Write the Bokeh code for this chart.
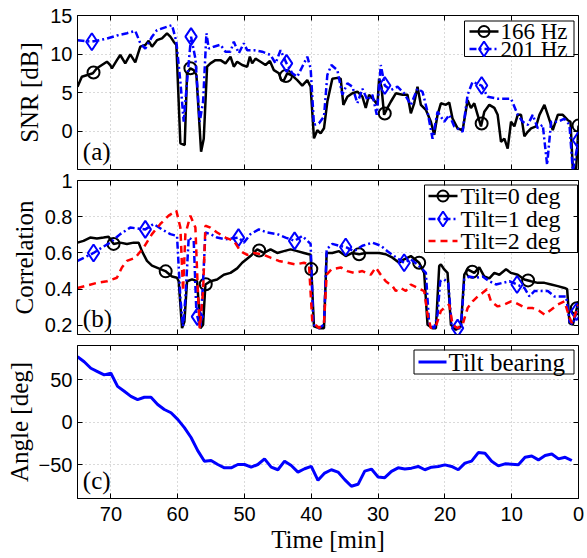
import numpy as np
from bokeh.plotting import figure
from bokeh.layouts import column
from bokeh.models import Range1d, LinearAxis, FixedTicker, Label, CustomLabelingPolicy
from bokeh.embed import file_html
from bokeh.resources import INLINE

# ---------------- data ----------------
x_ticks = [0, 10, 20, 30, 40, 50, 60, 70]

snr166_t = [75, 74.35, 72.7, 72.1, 71.35, 70.6, 70.1, 69.85, 69.1, 68.6, 67.85, 67.1, 66.35, 65.6, 64.85,
            64.35, 63.85, 63.1, 62.35, 61.6, 61.1, 60.6, 60.2, 59.6, 58.95, 58.6, 58.1, 57.6, 57.2, 56.5,
            56.1, 55.6, 55.1, 54.35, 53.6, 52.85, 52.1, 51.6, 51.1, 50.35, 49.6, 49.2, 48.85, 48.35, 47.6,
            46.85, 46.2, 45.6, 44.85, 44.5, 44.1, 43.6, 42.85, 42.1, 41.35, 40.6, 40.1, 39.6, 39.1, 38.6,
            38.1, 37.6, 36.85, 36.1, 35.6, 35.2, 34.6, 33.85, 33.1, 32.35, 31.85, 31.35, 30.6, 30.1, 29.85,
            29.5, 29.1, 28.6, 28.1, 27.35, 26.35, 25.6, 25.1, 24.6, 24.1, 23.6, 22.85, 22.1, 21.6, 21.1,
            20.6, 19.85, 19.35, 18.85, 18.1, 17.35, 16.6, 16.1, 15.6, 15.1, 14.6, 14.1, 13.35, 12.6, 12.1,
            11.6, 11.1, 10.6, 10.1, 9.6, 9.1, 8.6, 8.1, 7.6, 7.1, 6.35, 5.85, 5.1, 4.6, 3.85,
            3.1, 2.35, 1.6, 1.2, 0.85, 0.35, 0.0]
snr166_v = [5.75, 7.05, 7.5, 8.14, 8.57, 9.0, 8.57, 8.14, 9.2, 9.87, 8.78, 9.96, 8.9, 10.95, 11.17,
            11.7, 10.95, 11.8, 12.03, 12.68, 12.25, 11.6, 11.17, -1.6, -1.82, 7.5, 8.14, 7.9, 7.27, -2.68,
            -1.0, 8.35, 8.78, 9.2, 9.2, 8.78, 9.65, 8.35, 9.0, 8.57, 8.35, 9.65, 8.78, 9.4, 9.0,
            8.57, 9.1, 7.9, 7.5, 6.6, 6.6, 7.5, 7.2, 6.6, 5.9, 6.6, 5.75, -0.95, 0.1, -0.3,
            0.35, 3.8, 6.8, 6.9, 6.8, 3.4, 4.45, 4.9, 5.1, 4.45, 3.0, 4.7, 4.0, 3.4, 6.8,
            5.75, 2.1, 3.0, 3.8, 4.9, 4.7, 4.7, 2.3, 3.6, 5.75, 3.4, 2.75, 1.2, -0.5, 2.1,
            3.6, 3.4, 3.7, 1.6, 0.35, 0.1, 4.0, 3.0, 3.6, 2.1, 0.6, 2.5, 3.4, 3.0, 2.1,
            -1.4, -1.0, -2.3, 1.2, 0.6, 2.1, 2.1, -0.7, -0.1, 0.35, 0.6, 2.1, 3.4, 2.1, 0.1,
            2.1, 2.1, 1.4, 1.2, -4.85, -4.9, 0.7]

snr201_t = [75, 72.85, 70.6, 69.1, 67.6, 66.35, 65.6, 64.85, 63.85, 63.1, 62.1, 60.85, 60.2, 59.6, 59.1,
            58.6, 58.0, 57.35, 56.7, 56.2, 55.7, 55.35, 54.6, 53.6, 52.85, 52.1, 51.6, 50.85, 50.1, 49.6,
            48.6, 47.35, 46.1, 45.35, 44.6, 43.7, 42.85, 42.1, 41.35, 40.6, 40.1, 39.6, 38.85, 38.1, 37.6,
            37.0, 36.1, 35.35, 34.6, 33.85, 33.1, 32.35, 31.6, 30.85, 30.2, 29.6, 29.0, 28.1, 27.1, 26.1,
            25.1, 24.1, 23.35, 22.6, 21.85, 21.1, 20.1, 19.35, 18.6, 17.35, 16.6, 15.85, 14.5, 13.6, 12.1,
            11.1, 10.1, 9.1, 8.35, 7.6, 6.85, 6.1, 5.35, 4.7, 4.1, 3.1, 2.1, 1.35, 0.85, 0.0]
snr201_v = [11.8, 11.6, 12.0, 12.4, 12.7, 13.0, 11.4, 10.7, 12.25, 13.1, 13.4, 13.75, 11.6, 6.4, 1.2,
            6.4, 12.25, 9.4, 1.2, 3.8, 12.7, 10.7, 10.95, 11.2, 10.3, 10.3, 11.6, 10.1, 11.4, 10.5,
            10.5, 10.3, 9.87, 8.78, 10.5, 8.78, 7.5, 7.05, 8.35, 9.65, 8.14, 0.8, 1.0, 1.9, 7.27,
            8.57, 7.9, 4.7, 6.2, 5.75, 3.6, 5.5, 4.0, 4.7, 2.1, 8.57, 5.9, 5.3, 5.75, 4.9,
            3.4, 5.5, 5.1, 2.5, -1.0, 2.5, 1.2, 2.1, 0.6, -0.1, 4.7, 6.4, 5.9, 4.45, 4.2,
            4.2, 4.2, 2.1, 1.2, 0.8, 2.1, 0.35, 0.8, -4.4, 1.2, 1.2, 1.6, 0.8, -5.2, -1.2]

snr166_marks = [72.6, 58.1, 43.8, 29.0, 14.5, 0.0]
snr201_marks = [72.85, 58.0, 43.7, 29.0, 14.5, 0.0]

c0_t = [75, 74.1, 73.1, 72.1, 71.1, 70.35, 69.6, 68.6, 67.6, 66.6, 65.85, 65.35, 64.6, 63.85, 62.85,
        61.85, 60.85, 60.1, 59.85, 59.35, 59.0, 58.6, 57.85, 57.1, 56.6, 56.2, 55.85, 55.1, 54.1, 53.1,
        52.1, 51.1, 50.35, 49.1, 48.1, 47.1, 46.1, 45.1, 44.1, 43.1, 42.1, 41.1, 40.1, 39.6, 38.85,
        38.1, 37.7, 36.85, 35.85, 34.85, 33.85, 32.85, 31.85, 30.85, 29.85, 28.85, 27.85, 26.85, 26.1, 25.1,
        23.85, 23.1, 22.6, 21.85, 21.35, 20.85, 20.6, 20.1, 19.6, 19.1, 18.35, 17.6, 17.1, 16.6, 15.6,
        14.85, 14.1, 13.35, 12.6, 11.85, 10.85, 10.1, 9.1, 8.1, 7.1, 6.1, 5.1, 4.1, 3.1, 2.1,
        1.7, 1.35, 0.85, 0.0]
c0_v = [0.657, 0.667, 0.685, 0.68, 0.685, 0.69, 0.65, 0.657, 0.65, 0.657, 0.657, 0.61, 0.556, 0.53, 0.515,
        0.5, 0.47, 0.463, 0.444, 0.185, 0.22, 0.444, 0.454, 0.444, 0.185, 0.204, 0.426, 0.444, 0.454, 0.48,
        0.49, 0.515, 0.546, 0.583, 0.62, 0.6, 0.62, 0.6, 0.61, 0.62, 0.61, 0.6, 0.59, 0.195, 0.185,
        0.185, 0.6, 0.6, 0.61, 0.583, 0.6, 0.593, 0.6, 0.6, 0.6, 0.593, 0.574, 0.546, 0.565, 0.583,
        0.546, 0.49, 0.204, 0.185, 0.185, 0.528, 0.537, 0.509, 0.49, 0.204, 0.176, 0.195, 0.48, 0.51, 0.49,
        0.52, 0.47, 0.46, 0.49, 0.48, 0.51, 0.49, 0.48, 0.454, 0.444, 0.435, 0.435, 0.426, 0.417, 0.407,
        0.4, 0.213, 0.204, 0.333]

c1_t = [75, 72.6, 71.35, 70.1, 68.6, 67.1, 64.85, 63.6, 62.35, 61.1, 60.1, 59.6, 59.2, 58.85, 58.35,
        57.6, 57.2, 56.6, 56.2, 55.85, 55.1, 54.1, 52.85, 50.85, 50.1, 49.1, 47.85, 46.6, 45.1, 43.85,
        42.5, 41.35, 40.1, 39.7, 38.85, 38.1, 37.7, 36.85, 35.85, 34.85, 33.6, 32.35, 30.85, 29.6, 28.6,
        27.6, 26.1, 25.1, 24.1, 23.35, 22.85, 22.35, 21.6, 21.1, 20.7, 20.1, 19.5, 19.0, 18.1, 17.6,
        17.1, 16.35, 15.35, 14.35, 13.35, 12.35, 11.35, 10.35, 9.2, 8.1, 7.35, 6.6, 5.6, 4.6, 3.6,
        2.6, 1.85, 1.35, 0.85, 0.0]
c1_v = [0.556, 0.6, 0.63, 0.657, 0.704, 0.74, 0.73, 0.76, 0.73, 0.704, 0.694, 0.35, 0.195, 0.35, 0.685,
        0.667, 0.27, 0.185, 0.444, 0.713, 0.704, 0.685, 0.676, 0.685, 0.657, 0.704, 0.73, 0.713, 0.704, 0.685,
        0.667, 0.694, 0.65, 0.204, 0.185, 0.204, 0.62, 0.65, 0.64, 0.633, 0.61, 0.64, 0.657, 0.64, 0.61,
        0.583, 0.546, 0.565, 0.537, 0.51, 0.49, 0.204, 0.185, 0.26, 0.444, 0.454, 0.435, 0.204, 0.185, 0.185,
        0.454, 0.47, 0.463, 0.47, 0.444, 0.426, 0.435, 0.444, 0.426, 0.407, 0.36, 0.39, 0.39, 0.39, 0.36,
        0.36, 0.36, 0.222, 0.204, 0.315]

c2_t = [75, 73.6, 72.1, 70.6, 69.1, 68.35, 67.6, 66.35, 65.1, 63.85, 62.6, 61.35, 60.2, 59.6, 59.2,
        58.85, 58.1, 57.35, 57.0, 56.7, 56.2, 55.85, 55.1, 54.1, 52.85, 51.6, 50.6, 49.6, 48.6, 47.35,
        46.1, 44.85, 43.6, 42.35, 41.1, 40.35, 39.85, 38.85, 38.1, 37.7, 37.0, 35.6, 34.6, 33.6, 32.35,
        31.1, 30.35, 29.6, 28.85, 27.85, 27.35, 26.6, 25.85, 25.1, 24.1, 23.1, 22.6, 22.1, 21.35, 20.6,
        19.85, 19.35, 18.85, 18.1, 17.35, 16.6, 15.85, 15.1, 14.35, 13.7, 13.1, 12.1, 11.1, 10.1, 9.35,
        8.35, 7.6, 6.85, 5.85, 5.1, 4.1, 3.1, 2.1, 1.5, 1.0, 0.5, 0.0]
c2_v = [0.407, 0.42, 0.435, 0.444, 0.463, 0.52, 0.556, 0.574, 0.63, 0.704, 0.76, 0.806, 0.833, 0.74, 0.39,
        0.704, 0.806, 0.74, 0.407, 0.185, 0.39, 0.75, 0.74, 0.713, 0.685, 0.667, 0.61, 0.59, 0.6, 0.593,
        0.574, 0.556, 0.546, 0.537, 0.546, 0.537, 0.22, 0.185, 0.213, 0.48, 0.51, 0.52, 0.5, 0.49, 0.5,
        0.48, 0.52, 0.48, 0.444, 0.417, 0.39, 0.407, 0.39, 0.426, 0.407, 0.39, 0.26, 0.185, 0.195, 0.28,
        0.305, 0.315, 0.204, 0.185, 0.204, 0.296, 0.333, 0.36, 0.38, 0.4, 0.333, 0.305, 0.315, 0.333, 0.324,
        0.305, 0.296, 0.296, 0.28, 0.26, 0.287, 0.315, 0.333, 0.26, 0.213, 0.26, 0.315]

c0_marks = [69.6, 61.8, 55.8, 47.8, 40.0, 32.85, 23.85, 15.9, 7.55, 0.25]
c1_marks = [72.6, 64.85, 57.05, 50.9, 42.5, 34.85, 26.1, 18.1, 9.2, 0.3]

bearing_t = list(range(75, 0, -1))
bearing_v = [76.7, 70.9, 63.2, 59.3, 55.4, 57.4, 41.9, 36.1, 30.2, 26.4, 29.1, 29.1, 20.6, 14.7, 10.9,
             3.1, -6.6, -18.2, -33.7, -46.1, -45.3, -50, -53.9, -53.9, -50, -50, -53.1, -50, -43.4, -53.1,
             -56.2, -46.1, -51.2, -58.9,
             -55, -52.3, -68.6, -60.1, -56.2, -58.9, -67.8, -75.6, -73.3, -57.8, -55.4, -64.7, -65.5, -58.1,
             -53.9, -55.4, -54.3, -52.3, -56.2, -53.1, -52.3, -50.4, -52.3, -56.2, -48.4, -46.1, -36, -36.8,
             -46.1, -51.6, -49.2, -49.6, -50.4, -41.5, -39.9, -44.6, -39.5, -37.6, -43.4, -41.5, -45.3]

for a, b in [(snr166_t, snr166_v), (snr201_t, snr201_v), (c0_t, c0_v), (c1_t, c1_v),
             (c2_t, c2_v), (bearing_t, bearing_v)]:
    assert len(a) == len(b), (len(a), len(b))


def at(ts, t, v):
    t = np.asarray(t, float)[::-1]
    v = np.asarray(v, float)[::-1]
    return list(np.interp(ts, t, v))


# ---------------- style ----------------
SERIF = "Liberation Serif"
SANS = "Liberation Sans"
GRID = "#b4b4b4"
BLUE_DASH = "7 3 2 3"
RED_DASH = "7 5"

X0, X1 = 75, 0
FRAME_LEFT, FRAME_W = 77, 501
x_range = Range1d(X0, X1)


def no_labels():
    return CustomLabelingPolicy(code="return []")


def style_axis(ax, ticks, show_labels=True):
    ax.ticker = FixedTicker(ticks=ticks)
    ax.major_tick_in = 5
    ax.major_tick_out = 0
    ax.minor_tick_in = 0
    ax.minor_tick_out = 0
    ax.axis_line_color = "black"
    ax.major_tick_line_color = "black"
    ax.major_label_text_font = SANS
    ax.major_label_text_color = "black"
    if show_labels:
        ax.major_label_text_font_size = "20px"
        ax.major_label_standoff = 5
    else:
        ax.major_label_text_font_size = "1px"
        ax.major_label_standoff = 0
        ax.major_label_policy = no_labels()
    ax.axis_label_text_font = SERIF
    ax.axis_label_text_font_size = "25px"
    ax.axis_label_text_font_style = "normal"
    ax.axis_label_text_color = "black"


def make_fig(height, top, bottom, yr, yticks, show_xlabels, ylabel, label_standoff):
    p = figure(width=587, height=height, x_range=x_range, y_range=Range1d(*yr),
               output_backend="svg", toolbar_location=None,
               min_border_left=77, min_border_right=9, min_border_top=top, min_border_bottom=bottom)
    p.background_fill_color = "white"
    p.border_fill_color = "white"
    p.outline_line_color = "black"
    p.outline_line_width = 1
    xa = p.below[0]
    ya = p.left[0]
    style_axis(xa, x_ticks, show_xlabels)
    if not show_xlabels:
        xa.fixed_location = yr[0]
    style_axis(ya, yticks, True)
    ya.axis_label = ylabel
    ya.axis_label_standoff = label_standoff
    p.xgrid.ticker = FixedTicker(ticks=x_ticks)
    p.ygrid.ticker = FixedTicker(ticks=yticks)
    for g in (p.xgrid[0], p.ygrid[0]):
        g.grid_line_color = GRID
        g.grid_line_dash = "1 3"
        g.grid_line_width = 1
    top_ax = LinearAxis(fixed_location=yr[1])
    style_axis(top_ax, x_ticks, False)
    right_ax = LinearAxis(fixed_location=X1)
    style_axis(right_ax, yticks, False)
    p.add_layout(top_ax, "above")
    p.add_layout(right_ax, "right")
    return p


def pix(frame_top, frame_h, yr):
    """Convert page pixel positions to data positions for one panel (legend layout only)."""
    y0, y1 = yr

    def fx(px):
        return X0 + (px - FRAME_LEFT) * (X1 - X0) / FRAME_W

    def fy(py):
        return y1 - (py - frame_top) * (y1 - y0) / frame_h
    return fx, fy


def draw_legend(p, conv, box, glyph_x, text_x, rows, font_size):
    fx, fy = conv
    l, r, t, b = box
    p.quad(left=fx(l), right=fx(r), top=fy(t), bottom=fy(b), fill_color="white",
           line_color="black", line_width=1)
    g0, g1 = glyph_x
    for cy, label, line_kw, marker_kw in rows:
        p.line([fx(g0), fx(g1)], [fy(cy), fy(cy)], **line_kw)
        if marker_kw:
            p.scatter([fx((g0 + g1) / 2)], [fy(cy)], fill_alpha=0, **marker_kw)
        p.add_layout(Label(x=fx(text_x), y=fy(cy), text=label, text_font=SERIF,
                           text_font_size=font_size, text_baseline="middle", text_align="left",
                           text_color="black"))


def tag(p, x, y, text):
    p.add_layout(Label(x=x, y=y, text=text, text_font=SERIF, text_font_size="25px",
                       text_baseline="bottom", text_align="left", text_color="black"))


black_line = dict(line_color="black", line_width=2.5)
blue_line = dict(line_color="blue", line_width=2.5, line_dash=BLUE_DASH)
red_line = dict(line_color="red", line_width=2.5, line_dash=RED_DASH)
circ = dict(marker="circle", size=12, line_color="black", line_width=2)
diam = dict(marker="diamond", size=17, line_color="blue", line_width=2)

# ---------------- panel (a) ----------------
YR_A = (-5, 15)
pa = make_fig(170, 15, 1, YR_A, [0, 5, 10, 15], False, "SNR [dB]", 4)
pa.line(snr166_t, snr166_v, **black_line)
pa.scatter(snr166_marks, at(snr166_marks, snr166_t, snr166_v), fill_alpha=0, **circ)
pa.line(snr201_t, snr201_v, **blue_line)
pa.scatter(snr201_marks, at(snr201_marks, snr201_t, snr201_v), fill_alpha=0, **diam)
draw_legend(pa, pix(15, 154, YR_A), (464, 573.5, 20.5, 56), (469, 498), 500,
            [(31, "166 Hz", black_line, dict(circ, size=11)),
             (48.5, "201 Hz", blue_line, dict(diam, size=15))], "23px")
tag(pa, 74.2, -4.4, "(a)")

# ---------------- panel (b) ----------------
YR_B = (0.15, 1.0)
pb = make_fig(170, 10, 6, YR_B, [0.2, 0.4, 0.6, 0.8, 1.0], False, "Correlation", 4)
pb.line(c0_t, c0_v, **black_line)
pb.scatter(c0_marks, at(c0_marks, c0_t, c0_v), fill_alpha=0, **circ)
pb.line(c1_t, c1_v, **blue_line)
pb.scatter(c1_marks, at(c1_marks, c1_t, c1_v), fill_alpha=0, **diam)
pb.line(c2_t, c2_v, **red_line)
draw_legend(pb, pix(180, 154, YR_B), (424, 577, 184.5, 252), (428, 457), 460,
            [(195.5, "Tilt=0 deg", black_line, dict(circ, size=11)),
             (218.5, "Tilt=1 deg", blue_line, dict(diam, size=15)),
             (240.5, "Tilt=2 deg", red_line, None)], "24px")
tag(pb, 74.2, 0.165, "(b)")

# ---------------- panel (c) ----------------
YR_C = (-90, 90)
pc = make_fig(218, 5, 60, YR_C, [-50, 0, 50], True, "Angle [deg]", 3)
pc.left[0].major_label_overrides = {-50: "\u221250"}
pc.below[0].axis_label = "Time [min]"
pc.below[0].major_label_standoff = 8
pc.below[0].axis_label_standoff = 2
blue_solid = dict(line_color="blue", line_width=3)
pc.line(bearing_t, bearing_v, **blue_solid)
draw_legend(pc, pix(345, 153, YR_C), (413.5, 573.5, 349.5, 373.5), (418, 446), 448,
            [(361.5, "Tilt bearing", blue_solid, None)], "25px")
tag(pc, 74.2, -85, "(c)")

layout = column(pa, pb, pc, spacing=0)
open("out.html", "w").write(file_html(layout, INLINE))
